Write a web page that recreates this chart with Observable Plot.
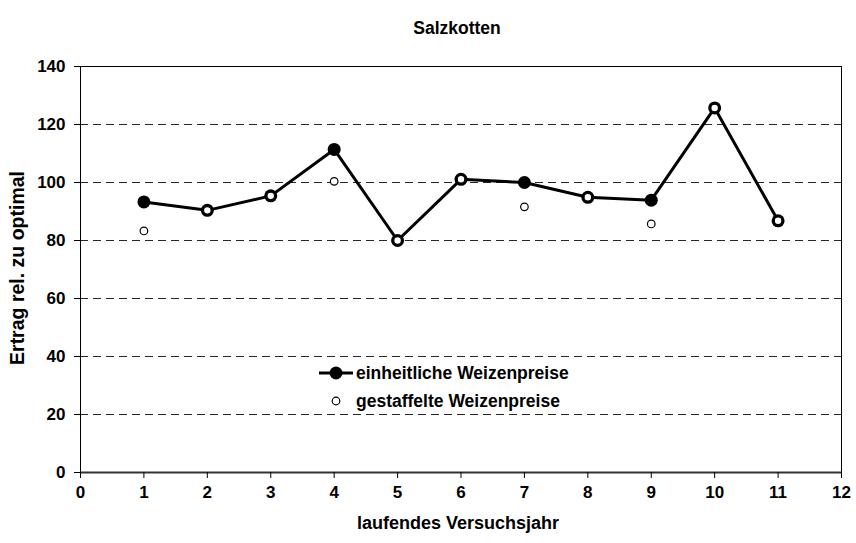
<!DOCTYPE html>
<html>
<head>
<meta charset="utf-8">
<script src="https://cdn.jsdelivr.net/npm/d3@7"></script>
<script src="https://cdn.jsdelivr.net/npm/@observablehq/plot@0.6"></script>
<style>
  body { margin: 0; background: #fff; }
  #wrap { position: relative; width: 856px; height: 543px; }
</style>
</head>
<body>
<div id="wrap"></div>
<script>
const title = "Salzkotten";
const xLabel = "laufendes Versuchsjahr";
const yLabel = "Ertrag rel. zu optimal";
const seriesNames = ["einheitliche Weizenpreise", "gestaffelte Weizenpreise"];
const years = [1, 2, 3, 4, 5, 6, 7, 8, 9, 10, 11];
const einheitlich = [93.3, 90.4, 95.4, 111.4, 80.0, 101.1, 100.0, 94.9, 93.9, 125.7, 86.8];
const gestaffelt = [83.3, 90.4, 95.4, 100.4, 80.0, 101.1, 91.6, 94.9, 85.7, 125.7, 86.8];
const xTicks = [0, 1, 2, 3, 4, 5, 6, 7, 8, 9, 10, 11, 12];
const yTicks = [0, 20, 40, 60, 80, 100, 120, 140];
const gridTicks = [20, 40, 60, 80, 100, 120];

const dataE = years.map((x, i) => ({x, y: einheitlich[i]}));
const dataG = years.map((x, i) => ({x, y: gestaffelt[i]}));

const fontFam = "'Liberation Sans', Arial, Helvetica, sans-serif";
const tickFont = {fontFamily: fontFam, fontWeight: "bold", fontSize: "17px"};

const chart = Plot.plot({
  width: 856,
  height: 543,
  marginLeft: 80,
  marginRight: 15,
  marginTop: 66,
  marginBottom: 71,
  style: {background: "#fff", color: "#000", overflow: "visible"},
  x: {domain: [0, 12]},
  y: {domain: [0, 140]},
  marks: [
    Plot.ruleY(gridTicks, {stroke: "#000", strokeWidth: 1, strokeDasharray: "8,5", strokeOpacity: 0.85}),
    Plot.frame({stroke: "#000", strokeWidth: 1}),
    Plot.ruleY([0], {stroke: "#333", strokeWidth: 2}),
    Plot.axisY({ticks: yTicks, tickSize: 6, tickPadding: 9, label: null, stroke: "#000", ...tickFont}),
    Plot.axisX({ticks: xTicks, tickSize: 6, tickPadding: 7, label: null, stroke: "#000", ...tickFont}),
    Plot.line(dataE, {x: "x", y: "y", stroke: "#000", strokeWidth: 3}),
    Plot.dot(dataE, {x: "x", y: "y", r: 6.5, fill: "#000", stroke: "none"}),
    Plot.dot(dataG, {x: "x", y: "y", r: 3.8, fill: "#fff", stroke: "#000", strokeWidth: 1.2})
  ]
});

const wrap = document.getElementById("wrap");
wrap.appendChild(chart);

// Overlay: title, axis titles and legend
const NS = "http://www.w3.org/2000/svg";
const ov = document.createElementNS(NS, "svg");
ov.setAttribute("width", 856);
ov.setAttribute("height", 543);
ov.style.position = "absolute";
ov.style.left = "0";
ov.style.top = "0";
ov.style.pointerEvents = "none";
ov.setAttribute("font-family", fontFam);
ov.setAttribute("font-weight", "bold");
ov.setAttribute("font-size", "17.5");

function txt(str, attrs) {
  const t = document.createElementNS(NS, "text");
  for (const k in attrs) t.setAttribute(k, attrs[k]);
  t.textContent = str;
  ov.appendChild(t);
}
function el(name, attrs) {
  const e = document.createElementNS(NS, name);
  for (const k in attrs) e.setAttribute(k, attrs[k]);
  ov.appendChild(e);
}

txt(title, {x: 457, y: 28, "text-anchor": "middle", "dominant-baseline": "central"});
txt(xLabel, {x: 458, y: 523, "text-anchor": "middle", "dominant-baseline": "central", "font-size": 18});
txt(yLabel, {x: 0, y: 0, "text-anchor": "middle", "dominant-baseline": "central", "font-size": 19.5, transform: "translate(17,268) rotate(-90)"});

el("line", {x1: 319, y1: 373, x2: 353, y2: 373, stroke: "#000", "stroke-width": 3});
el("circle", {cx: 336, cy: 373, r: 6.5, fill: "#000"});
el("circle", {cx: 336, cy: 401, r: 3.8, fill: "#fff", stroke: "#000", "stroke-width": 1.2});
txt(seriesNames[0], {x: 356, y: 373, "dominant-baseline": "central"});
txt(seriesNames[1], {x: 356, y: 401, "dominant-baseline": "central"});

wrap.appendChild(ov);
</script>
</body>
</html>
